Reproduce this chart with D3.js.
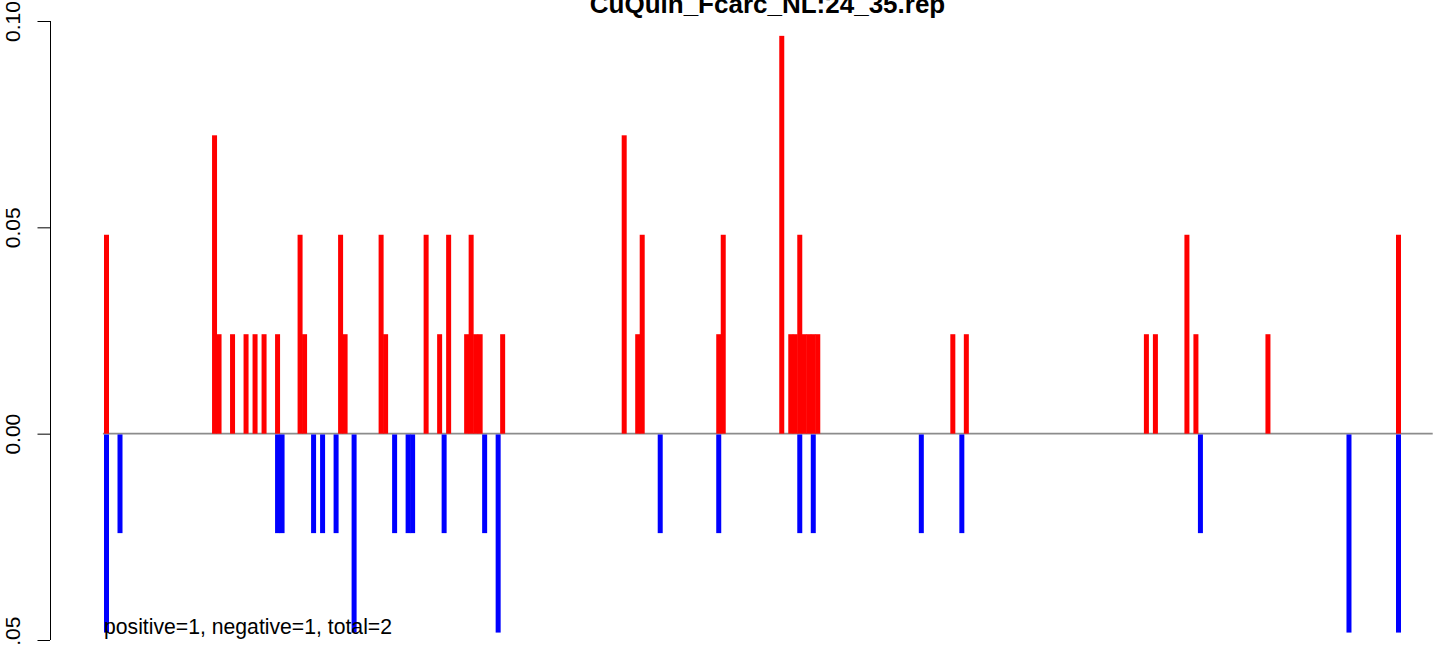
<!DOCTYPE html>
<html>
<head>
<meta charset="utf-8">
<script src="https://cdn.jsdelivr.net/npm/d3@7"></script>
<style>
  html, body { margin: 0; padding: 0; background: #fff; }
  svg { display: block; font-family: "Liberation Sans", Arial, Helvetica, sans-serif; }
</style>
</head>
<body>
<svg id="chart" width="1444" height="645"></svg>
<script>
// ---- data ----
const title = "CuQuin_Fcarc_NL:24_35.rep";
const note = "positive=1, negative=1, total=2";
const yTicks = [-0.05, 0.00, 0.05, 0.10];
const yTickLabels = ["-0.05", "0.00", "0.05", "0.10"];

const posIdx = [0,24,25,28,31,33,35,38,43,44,52,53,61,62,71,74,76,80,81,82,83,88,115,118,119,136,137,150,152,153,154,155,156,157,158,188,191,231,233,240,242,258,287];
const posValues = [0.0482,0.0723,0.0241,0.0241,0.0241,0.0241,0.0241,0.0241,0.0482,0.0241,0.0482,0.0241,0.0482,0.0241,0.0482,0.0241,0.0482,0.0241,0.0482,0.0241,0.0241,0.0241,0.0723,0.0241,0.0482,0.0241,0.0482,0.0964,0.0241,0.0241,0.0482,0.0241,0.0241,0.0241,0.0241,0.0241,0.0241,0.0241,0.0241,0.0482,0.0241,0.0241,0.0482];

const negIdx = [0,3,38,39,46,48,51,55,64,67,68,75,84,87,123,136,154,157,181,190,243,276,287];
const negValues = [-0.0482,-0.0241,-0.0241,-0.0241,-0.0241,-0.0241,-0.0241,-0.0482,-0.0241,-0.0241,-0.0241,-0.0241,-0.0241,-0.0482,-0.0241,-0.0241,-0.0241,-0.0241,-0.0241,-0.0241,-0.0241,-0.0482,-0.0482];

const xDomain = [0, 287];
const baselineExtent = [-0.8, 294.6];

// ---- drawing ----
const svg = d3.select("#chart");
const x = d3.scaleLinear().domain(xDomain).range([106.5, 1398.5]);
const y = d3.scaleLinear().domain([-0.05, 0.10]).range([640, 21]);
const barW = 5;

// baseline
svg.append("line")
  .attr("x1", x(baselineExtent[0])).attr("x2", x(baselineExtent[1]))
  .attr("y1", y(0)).attr("y2", y(0))
  .attr("stroke", "#8c8c8c").attr("stroke-width", 1.6);

// positive bars
svg.append("g").selectAll("rect")
  .data(posIdx.map((d, i) => ({ i: d, v: posValues[i] })))
  .join("rect")
  .attr("x", d => x(d.i) - barW / 2)
  .attr("width", barW)
  .attr("y", d => y(d.v))
  .attr("height", d => y(0) - y(d.v))
  .attr("fill", "#ff0000");

// negative bars
svg.append("g").selectAll("rect")
  .data(negIdx.map((d, i) => ({ i: d, v: negValues[i] })))
  .join("rect")
  .attr("x", d => x(d.i) - barW / 2)
  .attr("width", barW)
  .attr("y", y(0) + 0.8)
  .attr("height", d => y(d.v) - y(0) - 0.8)
  .attr("fill", "#0000ff");

// y axis
const axis = d3.axisLeft(y)
  .tickValues(yTicks)
  .tickSize(12.5)
  .tickFormat((d, i) => yTickLabels[i]);
const ag = svg.append("g").attr("transform", "translate(50,0)").call(axis);
ag.select(".domain").attr("stroke", "#000").attr("stroke-width", 1)
  .attr("d", `M0.5,${y(0.10)}V${y(-0.05)}`);
ag.selectAll(".tick line").attr("stroke", "#000").attr("stroke-width", 1);
ag.selectAll(".tick text")
  .attr("x", null).attr("dy", null)
  .attr("transform", "translate(-30,0) rotate(-90)")
  .attr("text-anchor", "middle")
  .attr("fill", "#000")
  .style("font-size", "21px")
  .style("font-family", "'Liberation Sans', Arial, sans-serif");

// title
svg.append("text")
  .attr("x", 767.5).attr("y", 12.5)
  .attr("text-anchor", "middle")
  .attr("font-weight", "bold")
  .attr("font-size", "26px")
  .attr("fill", "#000")
  .text(title);

// note
svg.append("text")
  .attr("x", 104).attr("y", 633.5)
  .attr("font-size", "21.2px")
  .attr("fill", "#000")
  .text(note);
</script>
</body>
</html>
